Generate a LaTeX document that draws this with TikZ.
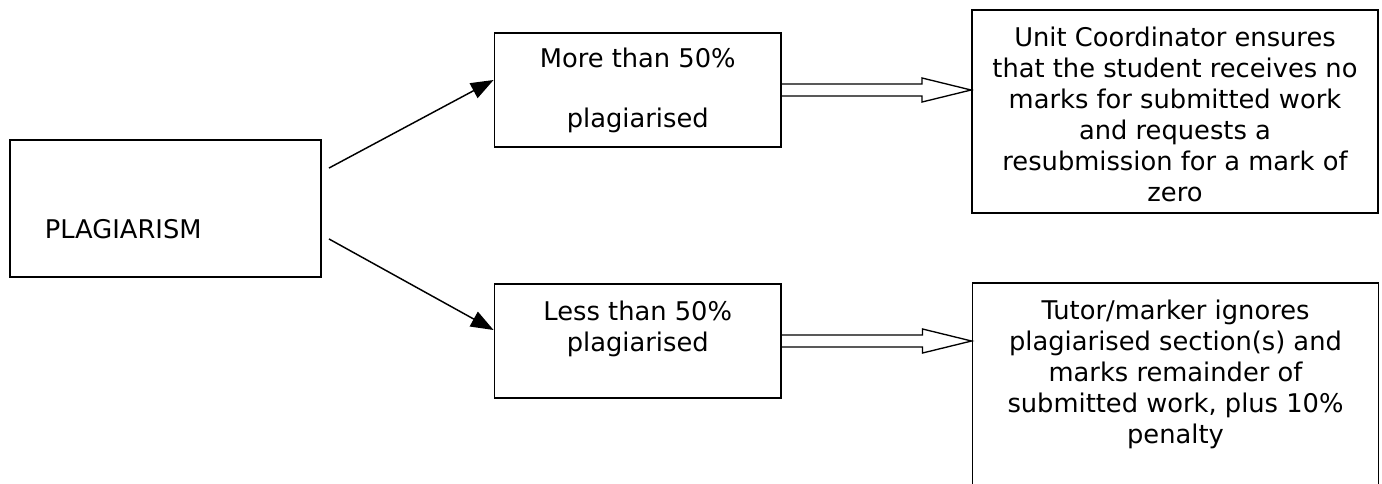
\documentclass[tikz,border=0pt]{standalone}
\usepackage{fontspec}
\setmainfont{DejaVu Sans}
\usetikzlibrary{arrows.meta, calc, positioning}

\begin{document}
\begin{tikzpicture}[x=0.75pt, y=-0.75pt, line width=1.1pt, >={Triangle[length=17pt, width=12.5pt]},
    font=\fontsize{19.3}{23.25}\selectfont,
    box/.style={draw, line width=1.4pt, inner sep=0pt},
    lbl/.style={inner sep=0pt, align=center}]
    \useasboundingbox (0,0) rectangle (1382,483);
    % boxes
    \node [box, minimum width=233.25pt, minimum height=102.75pt] (plag) at (165.5,208.5) {};
    \node [box, minimum width=214.9pt, minimum height=85.5pt] (more) at (637.75,90) {};
    \node [box, minimum width=214.9pt, minimum height=85.5pt] (less) at (637.75,341) {};
    \node [box, minimum width=304.5pt, minimum height=152.25pt] (ucoord) at (1175,111.5) {};
    \node [box, minimum width=304.5pt, minimum height=165pt] (tutor) at (1175.5,393) {};
    % texts
    \node [lbl, anchor=base west] (plagtxt) at ($(plag.west)+(35,29.5)$) {PLAGIARISM};
    \node [lbl, below=11.3pt of more.north] (moretxt) {More than 50\%\\[21.75pt]plagiarised};
    \node [lbl, below=12.75pt of less.north] (lesstxt) {Less than 50\%\\plagiarised};
    \node [lbl, below=12.75pt of ucoord.north] (ucoordtxt) {Unit Coordinator ensures\\that the student receives no\\marks for submitted work\\and requests a\\resubmission for a mark of\\zero};
    \node [lbl, below=12.75pt of tutor.north] (tutortxt) {Tutor/marker ignores\\plagiarised section(s) and\\marks remainder of\\submitted work, plus 10\%\\penalty};
    % arrows
    \draw [->] ($(plag.north east)+(7,29)$) -- ($(more.west)+(0,-10)$);
    \draw [->] ($(plag.south east)+(7,-39)$) -- ($(less.west)+(0,-11)$);
    \foreach \a/\b in {more/ucoord, less/tutor}
        \draw [line width=1pt] ($(\a.east)+(0,-6)$) -- ($(\a.east -| \b.west)+(-49,-6)$) -- ++(0,-6)
            -- (\a.east -| \b.west) -- ++(-49,12) -- ++(0,-6) -- ($(\a.east)+(0,6)$);
\end{tikzpicture}
\end{document}
